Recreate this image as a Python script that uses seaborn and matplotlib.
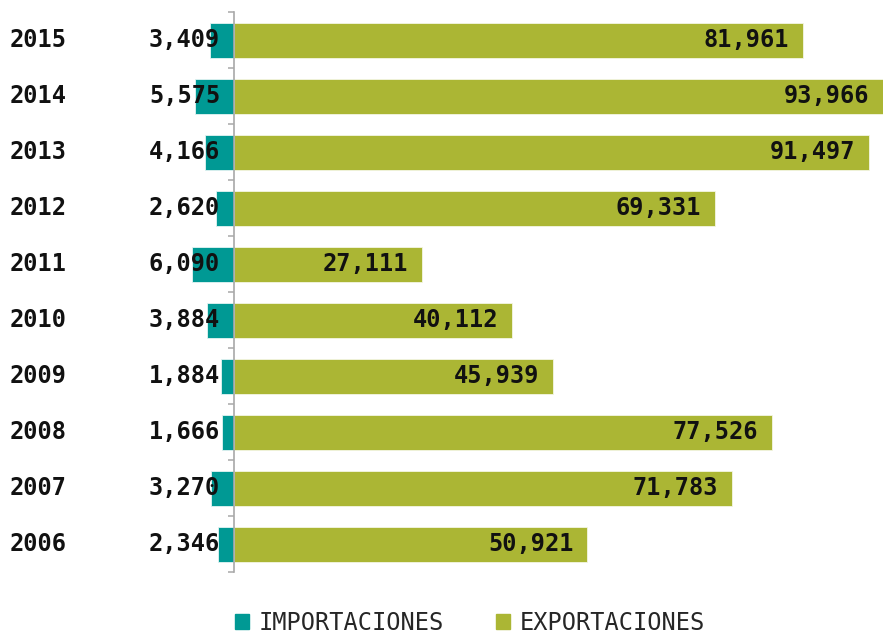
import numpy as np
import pandas as pd
import matplotlib
matplotlib.use("Agg")
import matplotlib.pyplot as plt
import matplotlib.patches as mpatches
import seaborn as sns

years = ["2015", "2014", "2013", "2012", "2011", "2010", "2009", "2008", "2007", "2006"]
importaciones = [3409, 5575, 4166, 2620, 6090, 3884, 1884, 1666, 3270, 2346]
exportaciones = [81961, 93966, 91497, 69331, 27111, 40112, 45939, 77526, 71783, 50921]

TEAL = "#009994"
OLIVE = "#abb634"

sns.set_style("white")
plt.rcParams["font.family"] = ["DejaVu Sans Mono", "DejaVu Sans"]

df = pd.DataFrame({"year": years,
                   "imp": [-v for v in importaciones],
                   "exp": exportaciones})

fig = plt.figure(figsize=(8.83, 6.36), dpi=100)
ax = fig.add_axes([0, 1 - 572 / 636, 1, 560 / 636])

sns.barplot(data=df, y="year", x="exp", order=years, color=OLIVE, width=0.625,
            orient="h", edgecolor="#f4f6e4", linewidth=0.6, saturation=1, ax=ax)
sns.barplot(data=df, y="year", x="imp", order=years, color=TEAL, width=0.625,
            orient="h", edgecolor="#e4f4f3", linewidth=0.6, saturation=1, ax=ax)

ax.set_xlim(-33718, 93516)
ax.set_ylim(9.5, -0.5)
ax.set_xlabel("")
ax.set_ylabel("")
ax.set_xticks([])

for s in ["top", "right", "bottom"]:
    ax.spines[s].set_visible(False)
ax.spines["left"].set_position(("data", 0))
ax.spines["left"].set_color("#a8a8a8")
ax.spines["left"].set_linewidth(1.2)
ax.set_yticks(np.arange(-0.5, 10, 1))
ax.set_yticklabels([])
ax.tick_params(axis="y", which="major", length=4.5, width=1.1, color="#a8a8a8",
               direction="out", left=True)

fs = 17
for i, (yr, im, ex) in enumerate(zip(years, importaciones, exportaciones)):
    ax.text(10 / 883, i, yr, transform=ax.get_yaxis_transform(), ha="left", va="center",
            fontsize=fs, fontweight="bold", color="#111111")
    ax.annotate(f"{im:,}", xy=(0, i), xytext=(-10, 0), textcoords="offset points",
                ha="right", va="center", fontsize=fs, fontweight="bold", color="#111111",
                annotation_clip=False)
    ax.annotate(f"{ex:,}", xy=(min(ex, 92800), i), xytext=(-6 if ex > 92800 else -10, 0),
                textcoords="offset points", ha="right", va="center", fontsize=fs,
                fontweight="bold", color="#111111", annotation_clip=False)

handles = [mpatches.Patch(color=TEAL, label="IMPORTACIONES"),
           mpatches.Patch(color=OLIVE, label="EXPORTACIONES")]
fig.legend(handles=handles, loc="center", bbox_to_anchor=(470 / 883, 1 - 623 / 636),
           ncol=2, frameon=False, fontsize=17, handlelength=0.6, handleheight=0.6,
           handletextpad=0.4, columnspacing=2.2, borderaxespad=0, borderpad=0)

fig.savefig("out.png", dpi=100)
